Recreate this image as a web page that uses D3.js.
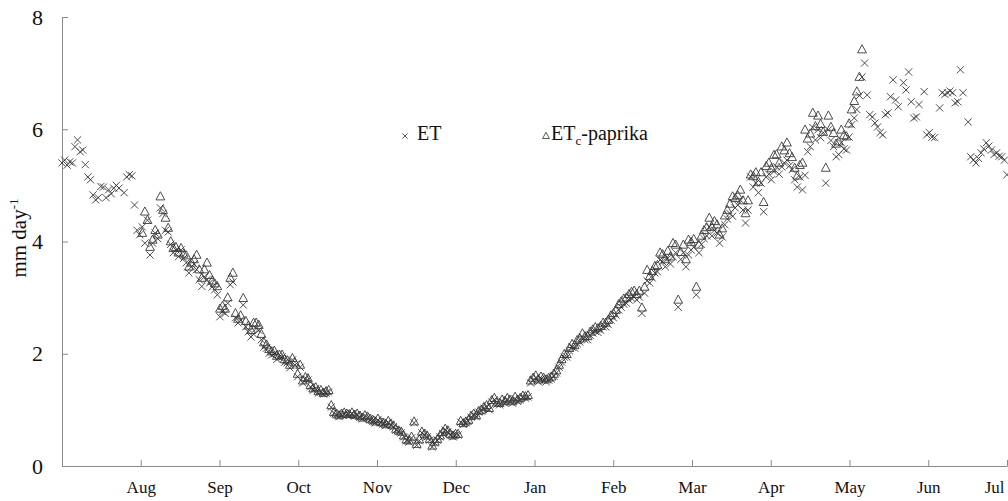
<!DOCTYPE html>
<html>
<head>
<meta charset="utf-8">
<script src="https://cdn.jsdelivr.net/npm/d3@7"></script>
<style>
  body { margin: 0; background: #fff; }
  svg { display: block; font-family: "Liberation Serif", "Times New Roman", serif; }
  svg text { font-family: "Liberation Serif", "Times New Roman", serif; }
  .axis path, .axis line { stroke: #8a8a8a; }
</style>
</head>
<body>
<svg id="chart" width="1008" height="501"></svg>
<script>
// month labels, one per month tick (first tick at Aug, axis starts at 1 Jul)
var monthLabels = ["Aug", "Sep", "Oct", "Nov", "Dec", "Jan", "Feb", "Mar", "Apr", "May", "Jun", "Jul"];
var yTicks = [0, 2, 4, 6, 8];

// daily reference ET (mm/day), day 0 = 1 Jul; null = no reading
var etJul = [5.40, 5.45, 5.36, 5.42, 5.40, 5.69, 5.81, 5.60, 5.63, 5.37, 5.15, 5.10, 4.83, 4.74, 4.78, 4.98, 4.97, 4.78, 4.92, 4.85, 4.95, 5.00, 4.95, null, 4.87, 5.15, 5.19, 5.17, 4.65, 4.20, 4.12];
var etAug = [4.26, 3.97, 4.38, 3.76, 3.97, 4.15, 4.05, 4.60, 4.50, 4.20, 4.17, 3.95, 3.80, 3.85, 3.73, 3.85, 3.70, 3.62, 3.44, 3.55, 3.60, 3.50, 3.32, 3.20, 3.37, 3.32, 3.26, 3.19, 3.14, 3.05, 2.66];
var etSep = [2.75, 2.72, 2.90, 3.23, 3.28, 2.64, 2.55, 2.60, 2.87, 2.48, 2.39, 2.30, 2.35, 2.45, 2.42, 2.25, 2.12, 2.10, 2.01, 1.98, 2.00, 1.90, 1.94, 1.94, 1.85, 1.84, 1.75, 1.89, 1.80, 1.59];
var etOct = [1.76, 1.48, 1.55, 1.53, 1.41, 1.35, 1.38, 1.30, 1.32, 1.28, 1.30, 1.32, 1.05, 0.94, 0.91, 0.88, 0.91, 0.93, 0.91, 0.90, 0.93, 0.89, 0.91, 0.87, 0.84, 0.88, 0.86, 0.82, 0.80, 0.77];
var etNov = [0.82, 0.77, 0.75, 0.72, 0.78, 0.73, 0.70, 0.64, 0.61, 0.59, 0.52, 0.45, 0.43, 0.50, 0.77, 0.37, 0.45, 0.59, 0.55, 0.52, 0.46, 0.34, 0.41, 0.46, 0.52, 0.58, 0.64, 0.61, 0.55, 0.52, 0.55];
var etDec = [0.55, 0.78, 0.74, 0.77, 0.80, 0.87, 0.91, 0.88, 0.96, 0.98, 1.03, 1.05, 1.00, 1.14, 1.18, 1.10, 1.09, 1.15, 1.12, 1.18, 1.15, 1.12, 1.20, 1.15, 1.18, 1.22, 1.21, 1.23, 1.48, 1.53];
var etJan = [1.57, 1.50, 1.55, 1.53, 1.50, 1.53, 1.55, 1.60, 1.66, 1.76, 1.85, 1.94, 1.94, 2.05, 2.12, 2.10, 2.18, 2.21, 2.30, 2.25, 2.25, 2.33, 2.37, 2.40, 2.38, 2.42, 2.48, 2.48, 2.52, 2.60, 2.64];
var etFeb = [2.69, 2.78, 2.83, 2.88, 2.90, 2.96, 2.99, 3.01, 2.96, 3.01, 2.72, 3.08, 3.30, 3.26, 3.35, 3.44, 3.46, 3.67, 3.64, 3.55, 3.70, 3.60, 3.73, 3.80, 2.83, 3.68, 3.80, 3.55, 3.76, 3.85];
var etMar = [3.90, 3.05, 3.80, 3.95, 4.05, 4.10, 4.26, 4.10, 4.20, 4.15, 3.97, 4.08, 4.30, 4.40, 4.50, 4.45, 4.60, 4.65, 4.74, 4.56, 4.33, 4.56, 5.15, 4.97, 5.04, 4.87, 5.04, 4.53, 5.15, 5.20];
var etApr = [5.10, 5.25, 5.33, 5.20, 5.33, 5.40, 5.45, 5.35, 5.28, 5.10, 4.97, 5.15, 4.92, 5.18, 5.60, 5.69, 6.03, 5.81, 5.99, 5.85, 5.94, 5.04, 5.99, 5.80, 5.69, 5.51, 5.55, 5.76, 5.65, 5.63, 5.86];
var etMay = [6.08, 6.20, 6.35, 6.60, 6.93, 7.18, 6.61, 6.26, 6.22, 6.11, 6.04, 5.94, 5.90, 6.26, 6.29, 6.58, 6.88, 6.52, 6.40, null, 6.83, 6.70, 7.02, 6.49, 6.20, 6.22, 6.44, null, 6.67, 5.90];
var etJun = [5.94, 5.86, 5.85, null, 6.38, 6.65, 6.62, 6.65, 6.68, 6.65, 6.47, 6.49, 7.06, 6.65, null, 6.13, 5.51, 5.45, 5.40, 5.48, 5.58, 5.65, 5.76, 5.70, 5.63, 5.55, 5.58, 5.52, 5.51, 5.45, 5.19];

// ETc for paprika, first value is day 31 (1 Aug)
var etcStartDay = 31;
var etcAug = [4.15, 4.53, 4.38, 3.90, 4.03, 4.20, 4.12, 4.80, 4.56, 4.42, 4.24, 4.00, 3.88, 3.90, 3.80, 3.88, 3.78, 3.75, 3.55, 3.62, 3.68, 3.76, 3.50, 3.35, 3.50, 3.62, 3.40, 3.30, 3.25, 3.20, 2.80];
var etcSep = [2.85, 2.80, 3.00, 3.35, 3.44, 2.72, 2.62, 2.68, 2.99, 2.58, 2.50, 2.42, 2.55, 2.55, 2.51, 2.35, 2.20, 2.16, 2.08, 2.04, 2.05, 1.96, 1.98, 1.98, 1.90, 1.88, 1.80, 1.92, 1.84, 1.64];
var etcOct = [1.80, 1.52, 1.58, 1.56, 1.44, 1.38, 1.40, 1.33, 1.35, 1.30, 1.33, 1.35, 1.08, 0.96, 0.93, 0.90, 0.93, 0.95, 0.93, 0.92, 0.95, 0.91, 0.93, 0.89, 0.86, 0.90, 0.88, 0.84, 0.82, 0.79];
var etcNov = [0.84, 0.79, 0.77, 0.74, 0.80, 0.75, 0.72, 0.66, 0.63, 0.61, 0.54, 0.47, 0.45, 0.52, 0.79, 0.39, 0.47, 0.61, 0.57, 0.54, 0.48, 0.36, 0.43, 0.48, 0.54, 0.60, 0.66, 0.63, 0.57, 0.54, 0.57];
var etcDec = [0.57, 0.80, 0.76, 0.79, 0.82, 0.89, 0.93, 0.90, 0.98, 1.00, 1.05, 1.08, 1.03, 1.17, 1.21, 1.13, 1.12, 1.18, 1.15, 1.21, 1.18, 1.15, 1.23, 1.18, 1.21, 1.25, 1.24, 1.26, 1.52, 1.57];
var etcJan = [1.61, 1.54, 1.59, 1.57, 1.54, 1.57, 1.59, 1.64, 1.70, 1.80, 1.90, 1.99, 1.99, 2.10, 2.17, 2.15, 2.24, 2.27, 2.36, 2.31, 2.31, 2.39, 2.43, 2.47, 2.45, 2.49, 2.55, 2.55, 2.60, 2.68, 2.72];
var etcFeb = [2.78, 2.88, 2.93, 2.98, 3.00, 3.06, 3.10, 3.12, 3.06, 3.12, 2.82, 3.19, 3.49, 3.38, 3.47, 3.56, 3.58, 3.80, 3.77, 3.68, 3.83, 3.73, 3.97, 3.94, 2.96, 3.81, 3.94, 3.68, 4.03, 3.99];
var etcMar = [4.04, 3.19, 3.94, 4.10, 4.20, 4.25, 4.42, 4.26, 4.36, 4.30, 4.12, 4.23, 4.46, 4.56, 4.67, 4.80, 4.77, 4.82, 4.92, 4.73, 4.50, 4.73, 5.19, 5.16, 5.23, 5.06, 5.23, 4.70, 5.34, 5.40];
var etcApr = [5.30, 5.54, 5.55, 5.40, 5.69, 5.62, 5.76, 5.57, 5.50, 5.31, 5.17, 5.36, 5.40, 5.99, 5.83, 5.92, 6.29, 6.05, 6.24, 6.09, 5.95, 5.31, 6.24, 6.04, 5.93, 5.74, 5.78, 5.99, 5.89, 5.87, 6.10];
var etcMay = [6.35, 6.50, 6.67, 6.93, 7.42];

var etValues = [].concat(etJul, etAug, etSep, etOct, etNov, etDec, etJan, etFeb, etMar, etApr, etMay, etJun);
var etcValues = [].concat(etcAug, etcSep, etcOct, etcNov, etcDec, etcJan, etcFeb, etcMar, etcApr, etcMay);

var etPoints = [];
etValues.forEach(function(v, i) { if (v != null) etPoints.push({ day: i, v: v }); });
var etcPoints = etcValues.map(function(v, i) { return { day: etcStartDay + i, v: v }; });

var svg = d3.select("#chart");
var daysInYear = 365;
var serif = "'Liberation Serif', 'Times New Roman', serif";

var x = d3.scaleLinear().domain([0, daysInYear]).range([62, 1007]);
var y = d3.scaleLinear().domain([0, 8]).range([466, 17]);

// month ticks are evenly spaced along the year
var monthTicks = monthLabels.map(function(d, i) { return (i + 1) * daysInYear / 12; });

var xAxis = d3.axisBottom(x)
    .tickValues(monthTicks)
    .tickFormat(function(d, i) { return monthLabels[i]; })
    .tickSizeInner(-6)
    .tickSizeOuter(0)
    .tickPadding(15);

var yAxis = d3.axisLeft(y)
    .tickValues(yTicks)
    .tickSizeInner(-6)
    .tickSizeOuter(0)
    .tickPadding(19);

var gx = svg.append("g")
    .attr("class", "axis")
    .attr("transform", "translate(0," + y(0) + ")")
    .call(xAxis);
gx.selectAll("text")
    .attr("fill", "#111")
    .style("font-family", serif)
    .style("font-size", "17px");
// last label sits at the right edge, keep it inside the picture
gx.selectAll(".tick:last-of-type text")
    .attr("text-anchor", "end")
    .attr("x", -3);

var gy = svg.append("g")
    .attr("class", "axis")
    .attr("transform", "translate(" + x(0) + ",0)")
    .call(yAxis);
gy.selectAll("text")
    .attr("fill", "#111")
    .style("font-family", serif)
    .style("font-size", "22px");

// y axis title
var title = svg.append("text")
    .attr("transform", "translate(26,238) rotate(-90)")
    .attr("text-anchor", "middle")
    .attr("fill", "#111")
    .style("font-family", serif)
    .style("font-size", "21px");
title.append("tspan").text("mm day");
title.append("tspan").attr("dy", -8).style("font-size", "13px").text("-1");

// marker path helpers
function crossPath(cx, cy, r) {
  return "M" + (cx - r) + "," + (cy - r) + "L" + (cx + r) + "," + (cy + r) +
         "M" + (cx - r) + "," + (cy + r) + "L" + (cx + r) + "," + (cy - r);
}
function triPath(cx, cy, r) {
  return "M" + cx + "," + (cy - r * 1.1) + "L" + (cx + r) + "," + (cy + r * 0.75) +
         "L" + (cx - r) + "," + (cy + r * 0.75) + "Z";
}

svg.append("g")
  .selectAll("path")
  .data(etPoints)
  .join("path")
    .attr("d", function(d) { return crossPath(x(d.day), y(d.v), 3.6); })
    .attr("fill", "none")
    .attr("stroke", "#3a3a3a")
    .attr("stroke-width", 0.9);

svg.append("g")
  .selectAll("path")
  .data(etcPoints)
  .join("path")
    .attr("d", function(d) { return triPath(x(d.day), y(d.v), 4.4); })
    .attr("fill", "none")
    .attr("stroke", "#3a3a3a")
    .attr("stroke-width", 0.9);

// legend
var legend = svg.append("g")
    .style("font-family", serif)
    .style("font-size", "20px")
    .attr("fill", "#111");
legend.append("path")
    .attr("d", crossPath(405, 136, 2.6))
    .attr("stroke", "#444").attr("stroke-width", 0.9).attr("fill", "none");
legend.append("text").attr("x", 417).attr("y", 140)
    .style("font-family", serif).text("ET");

legend.append("path")
    .attr("d", triPath(546, 136, 3.4))
    .attr("stroke", "#444").attr("stroke-width", 0.9).attr("fill", "none");
var lt = legend.append("text").attr("x", 551).attr("y", 140)
    .style("font-family", serif);
lt.append("tspan").text("ET");
lt.append("tspan").attr("dy", 5).style("font-size", "13px").text("c");
lt.append("tspan").attr("dy", -5).text("-paprika");
</script>
</body>
</html>
